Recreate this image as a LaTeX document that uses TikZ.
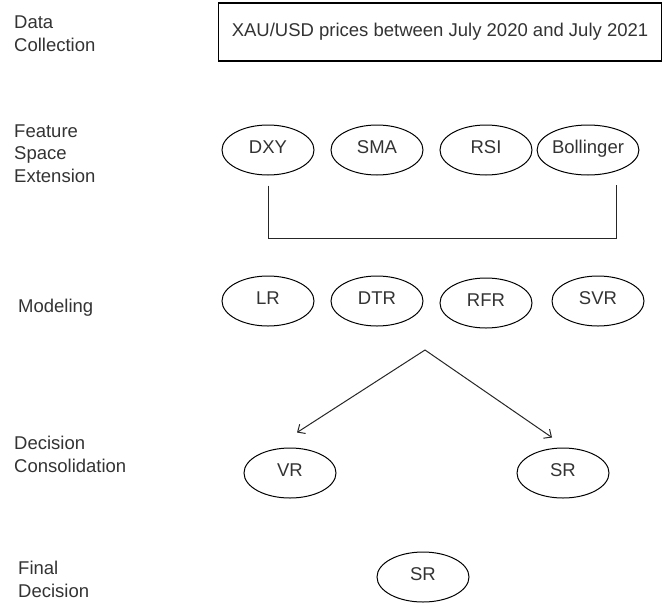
\documentclass[tikz,border=0pt]{standalone}
\usepackage{fontspec}
\setmainfont{Liberation Sans}
\usepackage{tikz}
\usetikzlibrary{shapes.geometric, arrows.meta, positioning}
\newcommand\Lblfont{\fontsize{18.5}{22.5}\selectfont}

\begin{document}
\begin{tikzpicture}[x=1pt, y=-1pt, font=\Lblfont,
    stage/.style = {anchor=base west, align=left, inner sep=0pt, text=black!80},
    oval/.style = {ellipse, draw, line width=1pt, minimum width=92pt, minimum height=50pt, inner sep=0pt,
                   text height=1.6ex, text depth=0.4ex, text=black!80},
    link/.style = {line width=1pt, black!85}]
    \useasboundingbox (0,0) rectangle (666,603);

    % stage labels on the left
    \node[stage] (s1) at (14,51) {Data\\Collection};
    \node[stage] (s2) at (14,182) {Feature\\Space\\Extension};
    \node[stage] (s3) at (18,312) {Modeling};
    \node[stage] (s4) at (14,472) {Decision\\Consolidation};
    \node[stage] (s5) at (18,597) {Final\\Decision};

    % data
    \node[draw, line width=1.3pt, minimum width=443pt, minimum height=58pt, text=black!80] (data) at (440,32) {XAU/USD prices between July 2020 and July 2021};

    % features
    \foreach \n/\t/\x in {dxy/DXY/268, sma/SMA/377, rsi/RSI/486, boll/Bollinger/588}{
        \node[oval] (\n) at (\x,150) {\t};
    }
    \coordinate (fl) at (268,238);
    \coordinate (fr) at (616,238);
    \coordinate (ftop) at (616,185);
    \draw[link] ([yshift=-10pt]dxy.south) -- (fl) -- (fr) -- (ftop);

    % models
    \foreach \n/\t/\x/\y in {lr/LR/268/301, dtr/DTR/377/301, rfr/RFR/486/303, svr/SVR/598/301}{
        \node[oval] (\n) at (\x,\y) {\t};
    }

    % consolidation
    \node[oval] (vr) at (290,473) {VR};
    \node[oval] (sr) at (563,473) {SR};
    \coordinate (split) at (425,350);
    \draw[link, -{Straight Barb[length=6pt, width=11pt]}] (split) -- ([shift={(7,-15)}]vr.north);
    \draw[link, -{Straight Barb[length=6pt, width=11pt]}] (split) -- ([shift={(-11,-10)}]sr.north);

    % final
    \node[oval] (fin) at (423,577) {SR};
\end{tikzpicture}
\end{document}
